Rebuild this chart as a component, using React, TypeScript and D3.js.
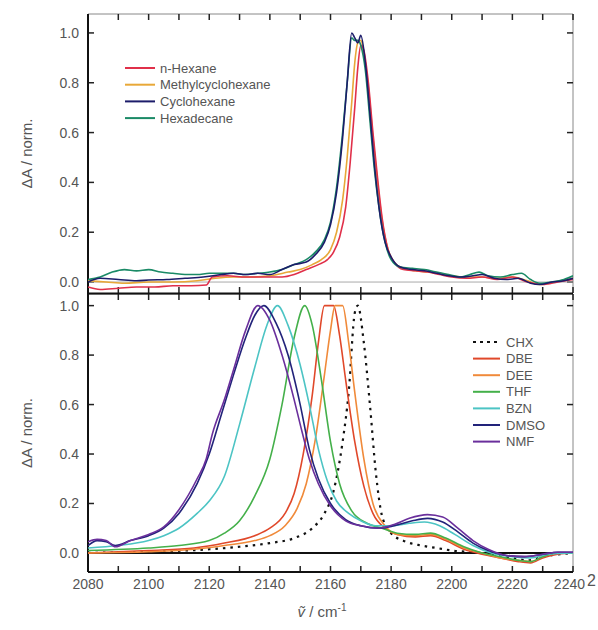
import React, { useEffect, useRef } from "react";
import * as d3 from "d3";

// wavenumber (cm-1), normalized absorbance
const topNames = ["n-Hexane", "Methylcyclohexane", "Cyclohexane", "Hexadecane"];
const topColors = ["#e0304a", "#e8a838", "#1c1c6a", "#1a8a66"];

const hexane = [[2080, -0.02], [2084, -0.03], [2090, -0.025], [2096, -0.02], [2102, -0.02], [2108, -0.015], [2114, -0.015], [2119, -0.012], [2121, 0.02], [2126, 0.025], [2132, 0.02], [2138, 0.02], [2144, 0.02], [2148, 0.03], [2152, 0.05], [2156, 0.07], [2159, 0.09], [2161, 0.12], [2163, 0.18], [2165, 0.3], [2166.5, 0.48], [2168, 0.7], [2169, 0.86], [2170, 0.95], [2171, 0.93], [2172.5, 0.8], [2174, 0.6], [2175.5, 0.42], [2177, 0.26], [2179, 0.13], [2181, 0.08], [2184, 0.05], [2188, 0.045], [2192, 0.04], [2196, 0.03], [2200, 0.02], [2205, 0.015], [2210, 0.02], [2215, 0.01], [2220, 0.02], [2225, 0.0], [2230, -0.01], [2235, 0.0], [2240, 0.01]];
const methylcyclohexane = [[2080, 0.005], [2086, 0.0], [2092, -0.005], [2100, 0.0], [2108, 0.0], [2116, 0.005], [2122, 0.015], [2128, 0.02], [2134, 0.02], [2140, 0.025], [2146, 0.04], [2150, 0.05], [2154, 0.07], [2157, 0.09], [2160, 0.13], [2162, 0.2], [2164, 0.33], [2165.5, 0.5], [2167, 0.72], [2168, 0.88], [2169, 0.96], [2170, 0.97], [2171, 0.92], [2172.5, 0.78], [2174, 0.58], [2175.5, 0.4], [2177, 0.25], [2179, 0.13], [2181, 0.08], [2184, 0.055], [2188, 0.045], [2192, 0.04], [2196, 0.035], [2200, 0.025], [2205, 0.02], [2210, 0.02], [2215, 0.015], [2220, 0.02], [2225, 0.005], [2229, -0.01], [2234, 0.0], [2240, 0.015]];
const cyclohexane = [[2080, 0.0], [2084, 0.015], [2090, 0.01], [2096, 0.005], [2100, 0.008], [2106, 0.01], [2112, 0.015], [2118, 0.02], [2124, 0.03], [2128, 0.035], [2132, 0.03], [2136, 0.035], [2140, 0.03], [2144, 0.05], [2148, 0.07], [2152, 0.08], [2155, 0.11], [2158, 0.16], [2160, 0.23], [2162, 0.36], [2164, 0.58], [2165.5, 0.8], [2167, 1.0], [2168, 0.98], [2169, 0.96], [2170, 0.99], [2171.5, 0.88], [2173, 0.68], [2174.5, 0.47], [2176, 0.3], [2178, 0.16], [2180, 0.1], [2183, 0.06], [2187, 0.05], [2191, 0.045], [2195, 0.035], [2199, 0.025], [2203, 0.02], [2207, 0.025], [2210, 0.03], [2214, 0.015], [2218, 0.01], [2222, 0.015], [2226, -0.005], [2229, -0.01], [2233, 0.0], [2237, 0.005], [2240, 0.015]];
const hexadecane = [[2080, 0.01], [2084, 0.02], [2088, 0.04], [2092, 0.05], [2096, 0.045], [2100, 0.05], [2104, 0.04], [2108, 0.035], [2112, 0.03], [2116, 0.03], [2120, 0.035], [2124, 0.035], [2128, 0.035], [2132, 0.03], [2136, 0.035], [2140, 0.04], [2144, 0.05], [2148, 0.07], [2152, 0.09], [2155, 0.12], [2158, 0.17], [2160, 0.24], [2162, 0.38], [2164, 0.6], [2165.5, 0.8], [2167, 0.98], [2168, 0.97], [2169, 0.97], [2170, 0.95], [2171.5, 0.85], [2173, 0.65], [2174.5, 0.45], [2176, 0.3], [2178, 0.16], [2180, 0.09], [2183, 0.06], [2187, 0.055], [2191, 0.05], [2195, 0.04], [2199, 0.03], [2203, 0.02], [2206, 0.03], [2209, 0.04], [2212, 0.025], [2216, 0.02], [2220, 0.03], [2223, 0.035], [2226, 0.01], [2229, -0.005], [2233, 0.0], [2237, 0.01], [2240, 0.025]];

const botNames = ["CHX", "DBE", "DEE", "THF", "BZN", "DMSO", "NMF"];
const botColors = ["#111111", "#e0482a", "#f08a3a", "#44b04a", "#4cc4c4", "#22237a", "#6a2f9c"];

const chx = [[2080, 0.0], [2100, 0.005], [2120, 0.015], [2130, 0.025], [2140, 0.04], [2148, 0.06], [2154, 0.1], [2158, 0.16], [2161, 0.25], [2164, 0.45], [2166, 0.65], [2168, 0.97], [2169, 1.0], [2171, 0.85], [2173, 0.6], [2175, 0.32], [2177, 0.15], [2180, 0.08], [2185, 0.045], [2190, 0.03], [2195, 0.02], [2200, 0.01], [2210, 0.0], [2220, -0.02], [2225, -0.03], [2230, -0.015], [2240, 0.0]];
const dbe = [[2080, 0.0], [2100, 0.01], [2115, 0.02], [2125, 0.04], [2135, 0.07], [2140, 0.1], [2145, 0.16], [2148, 0.24], [2151, 0.4], [2154, 0.64], [2156, 0.85], [2158, 1.0], [2161, 1.0], [2163, 0.88], [2165, 0.7], [2168, 0.45], [2171, 0.27], [2174, 0.16], [2178, 0.1], [2182, 0.075], [2188, 0.065], [2193, 0.07], [2198, 0.05], [2204, 0.015], [2210, -0.005], [2216, -0.02], [2222, -0.035], [2226, -0.04], [2230, -0.02], [2235, -0.005], [2240, 0.0]];
const dee = [[2080, 0.0], [2100, 0.005], [2115, 0.015], [2125, 0.03], [2135, 0.05], [2140, 0.07], [2145, 0.11], [2149, 0.18], [2152, 0.28], [2155, 0.46], [2158, 0.72], [2160, 0.9], [2161.5, 1.0], [2164, 1.0], [2166, 0.85], [2168, 0.65], [2171, 0.38], [2174, 0.2], [2178, 0.11], [2182, 0.075], [2188, 0.07], [2193, 0.075], [2198, 0.055], [2204, 0.02], [2210, 0.0], [2216, -0.02], [2222, -0.03], [2226, -0.035], [2230, -0.015], [2235, 0.0], [2240, 0.0]];
const thf = [[2080, 0.01], [2100, 0.02], [2110, 0.03], [2120, 0.05], [2125, 0.08], [2130, 0.13], [2135, 0.23], [2140, 0.38], [2144, 0.6], [2148, 0.87], [2151.5, 1.0], [2154, 0.92], [2157, 0.7], [2160, 0.45], [2163, 0.28], [2167, 0.17], [2172, 0.12], [2177, 0.1], [2182, 0.08], [2188, 0.075], [2193, 0.08], [2198, 0.06], [2204, 0.025], [2210, 0.0], [2216, -0.015], [2222, -0.03], [2226, -0.035], [2230, -0.015], [2235, 0.0], [2240, 0.0]];
const bzn = [[2080, 0.02], [2090, 0.03], [2100, 0.05], [2105, 0.07], [2110, 0.1], [2116, 0.16], [2120, 0.21], [2125, 0.31], [2130, 0.52], [2135, 0.75], [2139, 0.92], [2142.5, 1.0], [2146, 0.92], [2150, 0.76], [2153, 0.6], [2156, 0.42], [2159, 0.29], [2162, 0.21], [2166, 0.16], [2170, 0.13], [2175, 0.11], [2180, 0.11], [2186, 0.12], [2191, 0.125], [2196, 0.11], [2201, 0.075], [2207, 0.03], [2213, 0.0], [2220, -0.015], [2226, -0.02], [2232, -0.005], [2240, 0.0]];
const dmso = [[2080, 0.03], [2083, 0.05], [2086, 0.045], [2089, 0.03], [2094, 0.05], [2100, 0.07], [2105, 0.1], [2110, 0.16], [2116, 0.28], [2120, 0.4], [2124, 0.56], [2128, 0.72], [2132, 0.87], [2135, 0.96], [2138, 1.0], [2142, 0.93], [2146, 0.8], [2150, 0.6], [2153, 0.42], [2156, 0.3], [2160, 0.2], [2165, 0.135], [2170, 0.11], [2176, 0.1], [2181, 0.11], [2187, 0.13], [2192, 0.14], [2197, 0.125], [2202, 0.085], [2207, 0.04], [2212, 0.01], [2218, -0.01], [2224, -0.015], [2230, -0.005], [2235, 0.003], [2240, 0.003]];
const nmf = [[2080, 0.045], [2083, 0.055], [2086, 0.05], [2089, 0.025], [2094, 0.05], [2100, 0.075], [2105, 0.105], [2110, 0.175], [2116, 0.3], [2119, 0.38], [2121, 0.48], [2125, 0.62], [2128, 0.74], [2132, 0.9], [2136, 1.0], [2140, 0.94], [2144, 0.8], [2148, 0.62], [2150, 0.52], [2153, 0.38], [2156, 0.28], [2160, 0.19], [2165, 0.13], [2170, 0.11], [2176, 0.1], [2181, 0.115], [2186, 0.14], [2192, 0.155], [2197, 0.145], [2202, 0.1], [2207, 0.05], [2212, 0.015], [2218, -0.01], [2224, -0.015], [2230, -0.005], [2235, 0.003], [2240, 0.003]];

const xTicks = [2080, 2100, 2120, 2140, 2160, 2180, 2200, 2220, 2240];
const yTicks = [0, 0.2, 0.4, 0.6, 0.8, 1.0];

const font = "'Liberation Sans', Arial, sans-serif";

function App() {
  const ref = useRef<SVGSVGElement>(null);

  useEffect(() => {
    const svg = d3.select(ref.current);
    svg.selectAll("*").remove();

    const left = 88, right = 573;
    const x = d3.scaleLinear().domain([2080, 2240]).range([left, right]);
    const yTop = d3.scaleLinear().domain([-0.044, 1.076]).range([293, 14]);
    const yBot = d3.scaleLinear().domain([-0.077, 1.047]).range([572, 294]);

    const defs = svg.append("defs");
    defs.append("clipPath").attr("id", "clipTop").append("rect")
      .attr("x", left).attr("y", 14).attr("width", right - left).attr("height", 279);
    defs.append("clipPath").attr("id", "clipBot").append("rect")
      .attr("x", left).attr("y", 294).attr("width", right - left).attr("height", 278);

    const minor = d3.range(2080, 2241, 10);

    // panel frames + ticks
    const drawPanel = (y: d3.ScaleLinear<number, number>, top: number, bottom: number, isBottom: boolean) => {
      const g = svg.append("g");
      g.append("line").attr("x1", left).attr("x2", right).attr("y1", top).attr("y2", top)
        .attr("stroke", "#888").attr("stroke-width", 1);
      g.append("line").attr("x1", right).attr("x2", right).attr("y1", top).attr("y2", bottom)
        .attr("stroke", "#888").attr("stroke-width", 1);
      g.selectAll(".tt").data(minor).join("line")
        .attr("x1", d => x(d)).attr("x2", d => x(d))
        .attr("y1", top).attr("y2", top + 6)
        .attr("stroke", "#222").attr("stroke-width", 1.5);
      g.selectAll(".tb").data(minor).join("line")
        .attr("x1", d => x(d)).attr("x2", d => x(d))
        .attr("y1", bottom).attr("y2", bottom - 6)
        .attr("stroke", "#222").attr("stroke-width", 1.5);
      g.selectAll(".yl").data(yTicks).join("line")
        .attr("x1", left).attr("x2", left + 6)
        .attr("y1", d => y(d)).attr("y2", d => y(d))
        .attr("stroke", "#222").attr("stroke-width", 1.5);
      g.selectAll(".yr").data(yTicks).join("line")
        .attr("x1", right).attr("x2", right - 6)
        .attr("y1", d => y(d)).attr("y2", d => y(d))
        .attr("stroke", "#222").attr("stroke-width", 1.5);
      g.selectAll(".ylab").data(yTicks).join("text")
        .attr("x", left - 9).attr("y", d => y(d) + 5)
        .attr("text-anchor", "end")
        .style("font-family", font).style("font-size", "14px").style("fill", "#555")
        .text(d => d.toFixed(1));
      g.append("line").attr("x1", left).attr("x2", right).attr("y1", y(0)).attr("y2", y(0))
        .attr("stroke", isBottom ? "#111" : "#aaa").attr("stroke-width", isBottom ? 2 : 1);
      g.append("text")
        .attr("transform", `translate(32, ${(top + bottom) / 2}) rotate(-90)`)
        .attr("text-anchor", "middle")
        .style("font-family", font).style("font-size", "15px").style("fill", "#555")
        .text("ΔA / norm.");
    };
    drawPanel(yTop, 14, 293, false);
    drawPanel(yBot, 294, 572, true);

    // thick left axis, separator and bottom axis
    svg.append("line").attr("x1", left).attr("x2", left).attr("y1", 14).attr("y2", 572)
      .attr("stroke", "#111").attr("stroke-width", 2);
    svg.append("line").attr("x1", left).attr("x2", right).attr("y1", 293.5).attr("y2", 293.5)
      .attr("stroke", "#111").attr("stroke-width", 2);
    svg.append("line").attr("x1", left).attr("x2", right).attr("y1", 572).attr("y2", 572)
      .attr("stroke", "#111").attr("stroke-width", 2);

    // last label is pushed left so it leaves room for the stray "2"
    svg.selectAll(".xlab").data(xTicks).join("text")
      .attr("x", (d, i) => i === xTicks.length - 1 ? x(d) + 12 : x(d)).attr("y", 589)
      .attr("text-anchor", (d, i) => i === xTicks.length - 1 ? "end" : "middle")
      .style("font-family", font).style("font-size", "14px").style("fill", "#555")
      .text(d => d);

    const xt = svg.append("text")
      .attr("x", 322).attr("y", 617)
      .attr("text-anchor", "middle")
      .style("font-family", font).style("font-size", "15px").style("fill", "#555");
    xt.append("tspan").style("font-style", "italic").text("ṽ");
    xt.append("tspan").text(" / cm");
    xt.append("tspan").attr("dy", -6).style("font-size", "10px").text("-1");

    svg.append("text").attr("x", 587).attr("y", 586)
      .style("font-family", font).style("font-size", "16px").style("fill", "#555").text("2");

    const line = (y: d3.ScaleLinear<number, number>) =>
      d3.line<number[]>().x(d => x(d[0])).y(d => y(d[1])).curve(d3.curveMonotoneX);

    const topData = [hexane, methylcyclohexane, cyclohexane, hexadecane];
    const gTop = svg.append("g").attr("clip-path", "url(#clipTop)");
    [1, 0, 3, 2].forEach(i => {
      gTop.append("path").attr("d", line(yTop)(topData[i]))
        .attr("fill", "none").attr("stroke", topColors[i]).attr("stroke-width", 1.6);
    });

    const botData = [chx, dbe, dee, thf, bzn, dmso, nmf];
    const gBot = svg.append("g").attr("clip-path", "url(#clipBot)");
    botData.forEach((d, i) => {
      gBot.append("path").attr("d", line(yBot)(d))
        .attr("fill", "none").attr("stroke", botColors[i])
        .attr("stroke-width", i === 0 ? 2.2 : 1.6)
        .attr("stroke-dasharray", i === 0 ? "2.5,5" : null);
    });

    const lgT = svg.append("g");
    topNames.forEach((n, i) => {
      const yy = 68 + i * 16.7;
      lgT.append("line").attr("x1", 125).attr("x2", 155).attr("y1", yy).attr("y2", yy)
        .attr("stroke", topColors[i]).attr("stroke-width", 2);
      lgT.append("text").attr("x", 160).attr("y", yy + 4.5)
        .style("font-family", font).style("font-size", "13px").style("fill", "#555").text(n);
    });

    const lgB = svg.append("g");
    botNames.forEach((n, i) => {
      const yy = 342 + i * 16.6;
      lgB.append("line").attr("x1", 473).attr("x2", 500).attr("y1", yy).attr("y2", yy)
        .attr("stroke", botColors[i]).attr("stroke-width", 2)
        .attr("stroke-dasharray", i === 0 ? "3,4" : null);
      lgB.append("text").attr("x", 506).attr("y", yy + 4.5)
        .style("font-family", font).style("font-size", "13px").style("fill", "#555").text(n);
    });
  }, []);

  return (
    <svg ref={ref} width={598} height={630}
      style={{ position: "absolute", left: 0, top: 0, background: "#fff" }} />
  );
}

export default App;
